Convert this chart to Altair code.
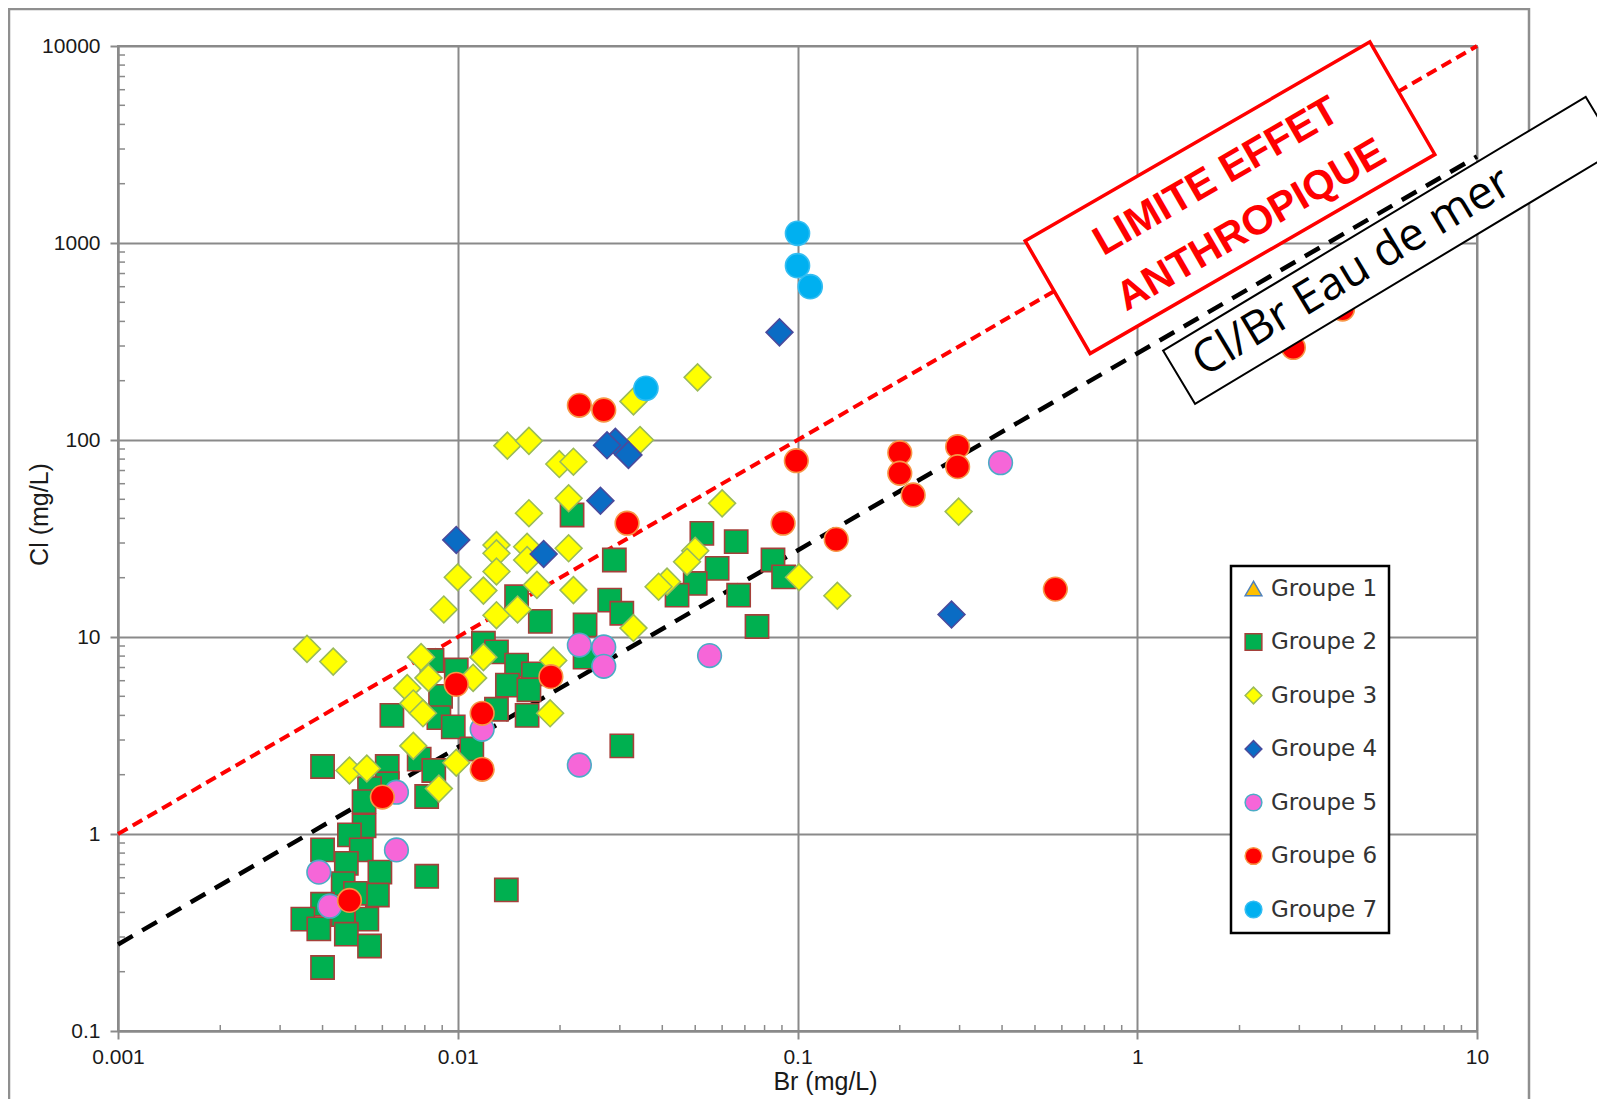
import altair as alt
import pandas as pd

groups = ["Groupe 1", "Groupe 2", "Groupe 3", "Groupe 4", "Groupe 5", "Groupe 6", "Groupe 7"]

# Groupe 1 : aucun point visible
br1 = []
cl1 = []

br2 = [0.0149, 0.0175, 0.0119, 0.0130, 0.0084, 0.0099, 0.0149, 0.0167, 0.0140, 0.0162,
       0.0089, 0.0064, 0.0088, 0.0097, 0.0130, 0.0160, 0.0110, 0.0040, 0.0062, 0.0077,
       0.0085, 0.0062, 0.0055, 0.0081, 0.0053, 0.0053, 0.0048, 0.0040, 0.0052, 0.0047,
       0.0059, 0.0081, 0.0046, 0.0058, 0.0040, 0.0035, 0.0046, 0.0054, 0.0039, 0.0047,
       0.0055, 0.0040, 0.0139, 0.0217, 0.0289, 0.0280, 0.0304, 0.0237, 0.0523, 0.0660,
       0.0580, 0.0500, 0.0442, 0.0671, 0.0760, 0.0237, 0.0847, 0.0910, 0.0304, 0.0050]
cl2 = [16.0, 12.0, 9.3, 8.4, 7.6, 6.8, 7.2, 6.5, 5.7, 5.4,
       5.0, 4.0, 3.9, 3.5, 4.3, 4.0, 2.7, 2.2, 2.2, 2.4,
       2.1, 1.8, 1.7, 1.55, 1.46, 1.1, 0.99, 0.83, 0.83, 0.71,
       0.64, 0.61, 0.56, 0.49, 0.44, 0.37, 0.39, 0.37, 0.33, 0.31,
       0.27, 0.21, 0.52, 41.6, 24.6, 15.4, 13.2, 11.5, 33.6, 30.5,
       22.3, 18.7, 16.3, 16.3, 11.3, 7.9, 24.6, 20.2, 2.8, 0.50]

br3 = [0.0036, 0.0043, 0.0091, 0.0100, 0.0119, 0.0130, 0.0150, 0.0078, 0.0082, 0.0071,
       0.0074, 0.0079, 0.0111, 0.0119, 0.0074, 0.0048, 0.0054, 0.0099, 0.0088, 0.0140,
       0.0162, 0.0199, 0.0219, 0.0344, 0.0329, 0.0508, 0.0212, 0.0162, 0.0130, 0.0130,
       0.0160, 0.0160, 0.0212, 0.0130, 0.0171, 0.0219, 0.0600, 0.0500, 0.0473, 0.0413,
       0.0390, 0.0329, 0.0191, 0.298, 0.131, 0.101, 0.0187]
cl3 = [8.7, 7.5, 13.8, 20.1, 17.2, 12.9, 13.8, 7.9, 6.2, 5.5,
       4.6, 4.1, 6.2, 7.9, 2.8, 2.1, 2.15, 2.3, 1.7, 93.6,
       99, 75.5, 77.6, 100, 157, 208, 50.6, 42.5, 29.3, 26.6,
       28.7, 24.6, 28.2, 21.5, 18.4, 17.3, 47.7, 27.4, 24.1, 19.1,
       18.0, 11.1, 7.6, 43.3, 16.2, 20.1, 4.1]

br4 = [0.0885, 0.0291, 0.0275, 0.0318, 0.0263, 0.0179, 0.0099, 0.284]
cl4 = [352, 98, 94, 84, 49.2, 26.4, 31.1, 13.0]

br5 = [0.0118, 0.0066, 0.0066, 0.0039, 0.0042, 0.0228, 0.0269, 0.0269, 0.0551, 0.0228, 0.396]
cl5 = [3.4, 1.63, 0.83, 0.64, 0.43, 9.1, 8.9, 7.1, 8.05, 2.24, 76.7]

br6 = [0.0228, 0.0269, 0.0992, 0.200, 0.200, 0.219, 0.296, 0.296, 0.0315, 0.0907,
       0.130, 0.0188, 0.0099, 0.0118, 0.0118, 0.0060, 0.0048, 0.574, 2.88, 4.02]
cl6 = [150, 142, 78.5, 86.2, 67.8, 52.6, 92.5, 73.2, 37.8, 37.8,
       31.3, 6.29, 5.75, 4.1, 2.13, 1.54, 0.46, 17.5, 295, 462]

br7 = [0.100, 0.100, 0.109, 0.0358]
cl7 = [1120, 767, 600, 183]

# reference lines
line_br = [0.001, 10]
anthropic_cl = [1, 10000]       # Cl/Br = 1000
seawater_cl = [0.275, 2750]     # Cl/Br = 275

x_ticks = [0.001, 0.01, 0.1, 1, 10]
y_ticks = [0.1, 1, 10, 100, 1000, 10000]
minor_mult = [2, 3, 4, 5, 6, 7, 8, 9]

fill_range = ["#FFC000", "#00B050", "#FFFF00", "#0A6CC4", "#F666D8", "#FF0000", "#00B0F0"]
stroke_range = ["#4F81BD", "#A5403A", "#9BBB59", "#4A4A9C", "#4BACC6", "#F79646", "#33BDF2"]
shape_range = ["triangle-up", "square", "diamond", "diamond", "circle", "circle", "circle"]
size_list = [500, 540, 720, 720, 560, 560, 580]

series = [(br1, cl1), (br2, cl2), (br3, cl3), (br4, cl4), (br5, cl5), (br6, cl6), (br7, cl7)]
rows = []
for gi, (bs, cs) in enumerate(series):
    for b, c in zip(bs, cs):
        rows.append({"br": b, "cl": c, "group": groups[gi], "sz": size_list[gi]})
df = pd.DataFrame(rows)

xscale = alt.Scale(type="log", domain=[0.001, 10], nice=False)
yscale = alt.Scale(type="log", domain=[0.1, 10000], nice=False)

xaxis = alt.Axis(values=x_ticks, format="~g", labelFlush=False, labelPadding=7,
                 titleX=707, titleY=50, titleBaseline="middle", titleAlign="center")
yaxis = alt.Axis(values=y_ticks, format="~g", labelFlush=False, labelPadding=10,
                 titleX=-79, titleY=468, titleAngle=270, titleBaseline="middle", titleAlign="center")

X = alt.X("br:Q", scale=xscale, axis=xaxis, title="Br (mg/L)")
Y = alt.Y("cl:Q", scale=yscale, axis=yaxis, title="Cl (mg/L)")

leg = alt.Legend(orient="none", legendX=1113, legendY=520, title=None)

# outer frame
frame = alt.Chart(pd.DataFrame({"a": [0]})).mark_rect(
    fillOpacity=0, stroke="#8f8f8f", strokeWidth=2.5
).encode(x=alt.value(-109), x2=alt.value(1411), y=alt.value(-37), y2=alt.value(1150))

# minor ticks
xminor_df = pd.DataFrame({"br": [m * 10 ** k for k in [-3, -2, -1, 0] for m in minor_mult]})
yminor_df = pd.DataFrame({"cl": [m * 10 ** k for k in [-1, 0, 1, 2, 3] for m in minor_mult]})
xminor = alt.Chart(xminor_df).mark_rule(color="#8a8a8a", strokeWidth=1.5).encode(
    x=X, y=alt.value(979), y2=alt.value(985))
yminor = alt.Chart(yminor_df).mark_rule(color="#8a8a8a", strokeWidth=1.5).encode(
    y=Y, x=alt.value(0), x2=alt.value(7))

red_df = pd.DataFrame({"br": line_br, "cl": anthropic_cl})
black_df = pd.DataFrame({"br": line_br, "cl": seawater_cl})
red_line = alt.Chart(red_df).mark_line(color="#FF0000", strokeWidth=4, strokeDash=[11, 6]).encode(x=X, y=Y)
black_line = alt.Chart(black_df).mark_line(color="#000000", strokeWidth=4.5, strokeDash=[17, 11]).encode(x=X, y=Y)

points = alt.Chart(df).mark_point(filled=True, opacity=1, strokeWidth=1.6).encode(
    x=X, y=Y,
    fill=alt.Fill("group:N", scale=alt.Scale(domain=groups, range=fill_range), legend=leg),
    stroke=alt.Stroke("group:N", scale=alt.Scale(domain=groups, range=stroke_range), legend=leg),
    shape=alt.Shape("group:N", scale=alt.Scale(domain=groups, range=shape_range), legend=leg),
    size=alt.Size("sz:Q", scale=None),
)

# annotation boxes and texts
red_box_df = pd.DataFrame({"br": [1.875], "cl": [1698]})
red_line1_df = pd.DataFrame({"br": [1.711], "cl": [2163]})
red_line2_df = pd.DataFrame({"br": [2.170], "cl": [1226]})
blk_box_df = pd.DataFrame({"br": [5.56], "cl": [918]})
blk_text_df = pd.DataFrame({"br": [4.29], "cl": [712]})

red_box = alt.Chart(red_box_df).mark_point(
    shape="M -1 -0.3266 L 1 -0.3266 L 1 0.3266 L -1 0.3266 Z",
    size=158404, angle=330, filled=True, fill="white", stroke="#FF0000",
    strokeWidth=3.5, opacity=1
).encode(x=X, y=Y)
red_text_style = dict(angle=330, font="Liberation Sans", fontWeight="bold", fontSize=41,
                      color="#FF0000", align="center", baseline="middle")
red_text1 = alt.Chart(red_line1_df).mark_text(text="LIMITE EFFET", **red_text_style).encode(x=X, y=Y)
red_text2 = alt.Chart(red_line2_df).mark_text(text="ANTHROPIQUE", **red_text_style).encode(x=X, y=Y)

blk_box = alt.Chart(blk_box_df).mark_point(
    shape="M -1 -0.1258 L 1 -0.1258 L 1 0.1258 L -1 0.1258 Z",
    size=243049, angle=329, filled=True, fill="white", stroke="#000000",
    strokeWidth=2, opacity=1
).encode(x=X, y=Y)
blk_text = alt.Chart(blk_text_df).mark_text(
    text="Cl/Br Eau de mer", angle=329, font="Open Sans", fontSize=46,
    color="#000000", align="center", baseline="middle"
).encode(x=X, y=Y)

chart = alt.layer(
    frame, xminor, yminor, red_line, black_line, points,
    red_box, red_text1, red_text2, blk_box, blk_text
).properties(
    width=1359, height=985,
    padding={"left": 110, "top": 38, "right": 120, "bottom": 68},
    autosize=alt.AutoSizeParams(type="none"),
).configure_view(
    stroke="#8a8a8a", strokeWidth=2
).configure_axis(
    grid=True, gridColor="#8a8a8a", gridWidth=2,
    domainColor="#8a8a8a", domainWidth=2,
    tickColor="#8a8a8a", tickWidth=2, tickSize=8,
    labelFont="Liberation Sans", labelFontSize=21, labelColor="#1a1a1a",
    titleFont="Liberation Sans", titleFontSize=25, titleFontWeight="normal", titleColor="#1a1a1a",
).configure_legend(
    padding=11, rowPadding=29.5, symbolSize=280, symbolStrokeWidth=1.5,
    labelFont="DejaVu Sans", labelFontSize=23, labelColor="#333333", labelOffset=6,
    strokeColor="#000000", strokeWidth=2.5, fillColor="white",
)

chart.save("out.html", embed_options={"renderer": "svg", "actions": False})
